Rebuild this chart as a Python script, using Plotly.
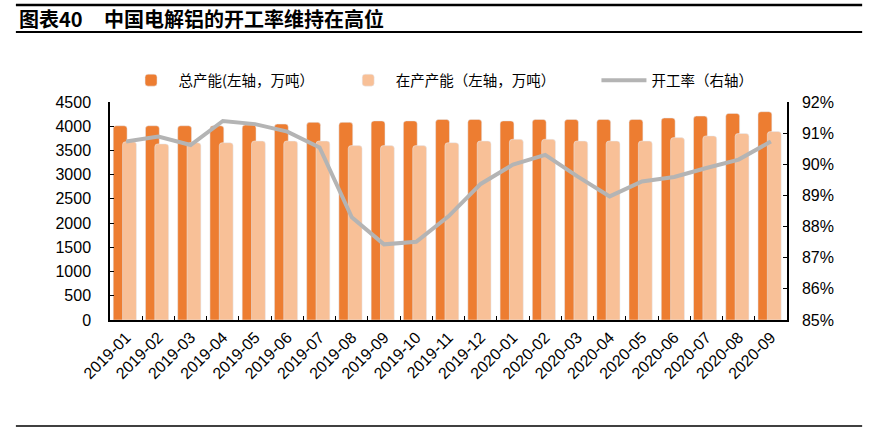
import plotly.graph_objects as go

# 月份
months = ['2019-01', '2019-02', '2019-03', '2019-04', '2019-05', '2019-06', '2019-07',
          '2019-08', '2019-09', '2019-10', '2019-11', '2019-12', '2020-01', '2020-02',
          '2020-03', '2020-04', '2020-05', '2020-06', '2020-07', '2020-08', '2020-09']

# 总产能（万吨）
total_cap = [4010, 4010, 4010, 4010, 4025, 4045, 4080, 4080, 4110, 4110, 4140,
             4140, 4110, 4140, 4140, 4140, 4140, 4170, 4210, 4265, 4300]

# 在产产能（万吨）
running_cap = [3680, 3635, 3660, 3660, 3695, 3695, 3695, 3600, 3600, 3600, 3660,
               3695, 3730, 3730, 3695, 3695, 3695, 3765, 3800, 3850, 3890]

# 开工率（%）
util_rate = [90.73, 90.89, 90.62, 91.39, 91.29, 91.05, 90.54, 88.30, 87.43, 87.51, 88.33,
             89.37, 89.99, 90.30, 89.61, 88.97, 89.45, 89.59, 89.88, 90.15, 90.73]

FONT = 'Liberation Sans, Arial, Noto Sans CJK SC'
PAD = '\u3000'  # 图例项之间的间距

fig = go.Figure()
fig.add_trace(go.Bar(x=months, y=total_cap, name='总产能(左轴，万吨）' + PAD * 2,
                     marker=dict(color='#ED7D31', cornerradius=3),
                     width=0.43, offset=-0.40))
fig.add_trace(go.Bar(x=months, y=running_cap, name='在产产能（左轴，万吨）' + PAD * 3,
                     marker=dict(color='#F8C097', cornerradius=3),
                     width=0.43, offset=-0.11))
fig.add_trace(go.Scatter(x=months, y=util_rate, name='开工率（右轴）', mode='lines',
                         line=dict(color='#B4B4B4', width=4), yaxis='y2'))

# 标题与分隔线
fig.add_shape(type='line', xref='paper', yref='paper', x0=-0.139, x1=1.111, y0=1.445, y1=1.445,
              line=dict(color='black', width=2.5))
fig.add_shape(type='line', xref='paper', yref='paper', x0=-0.139, x1=1.111, y0=1.321, y1=1.321,
              line=dict(color='black', width=2))
fig.add_shape(type='line', xref='paper', yref='paper', x0=-0.139, x1=1.111, y0=-0.486, y1=-0.486,
              line=dict(color='black', width=1.5))
fig.add_annotation(text='<b>图表40</b>', xref='paper', yref='paper', x=-0.137, y=1.385,
                   xanchor='left', yanchor='middle', showarrow=False,
                   font=dict(family='Noto Sans CJK SC', size=20, color='black'))
fig.add_annotation(text='<b>中国电解铝的开工率维持在高位</b>', xref='paper', yref='paper',
                   x=-0.0118, y=1.385, xanchor='left', yanchor='middle', showarrow=False,
                   font=dict(family='Noto Sans CJK SC', size=20, color='black'))

fig.update_layout(
    width=879, height=427,
    margin=dict(l=110, r=92, t=102, b=107, autoexpand=False),
    paper_bgcolor='white', plot_bgcolor='white',
    barmode='overlay',
    font=dict(family=FONT, size=16, color='black'),
    showlegend=True,
    legend=dict(orientation='h', x=0.02, y=1.10, xanchor='left',
                yanchor='middle', itemwidth=45,
                font=dict(family='Noto Sans CJK SC', size=14.5, color='black'),
                bgcolor='rgba(0,0,0,0)'),
    xaxis=dict(type='category', range=[-0.5, 20.5], showline=True, linecolor='black',
               linewidth=1.5, ticks='inside', ticklen=4, tickcolor='black',
               tickson='boundaries', tickangle=-45, tickfont=dict(size=16),
               showgrid=False, zeroline=False, automargin=False),
    yaxis=dict(range=[0, 4500], dtick=500, showline=True, linecolor='black', linewidth=1.5,
               ticks='inside', ticklen=4, tickcolor='black', showgrid=False, zeroline=False,
               ticklabelstandoff=14, automargin=False),
    yaxis2=dict(range=[85, 92], dtick=1, ticksuffix='%', overlaying='y', side='right',
                showline=True, linecolor='black', linewidth=1.5, ticks='inside', ticklen=4,
                tickcolor='black', showgrid=False, zeroline=False, ticklabelstandoff=10,
                automargin=False),
)

fig.write_html('out.html', config={'displayModeBar': False},
               post_script="document.body.style.margin='0';document.body.style.overflow='hidden';")
